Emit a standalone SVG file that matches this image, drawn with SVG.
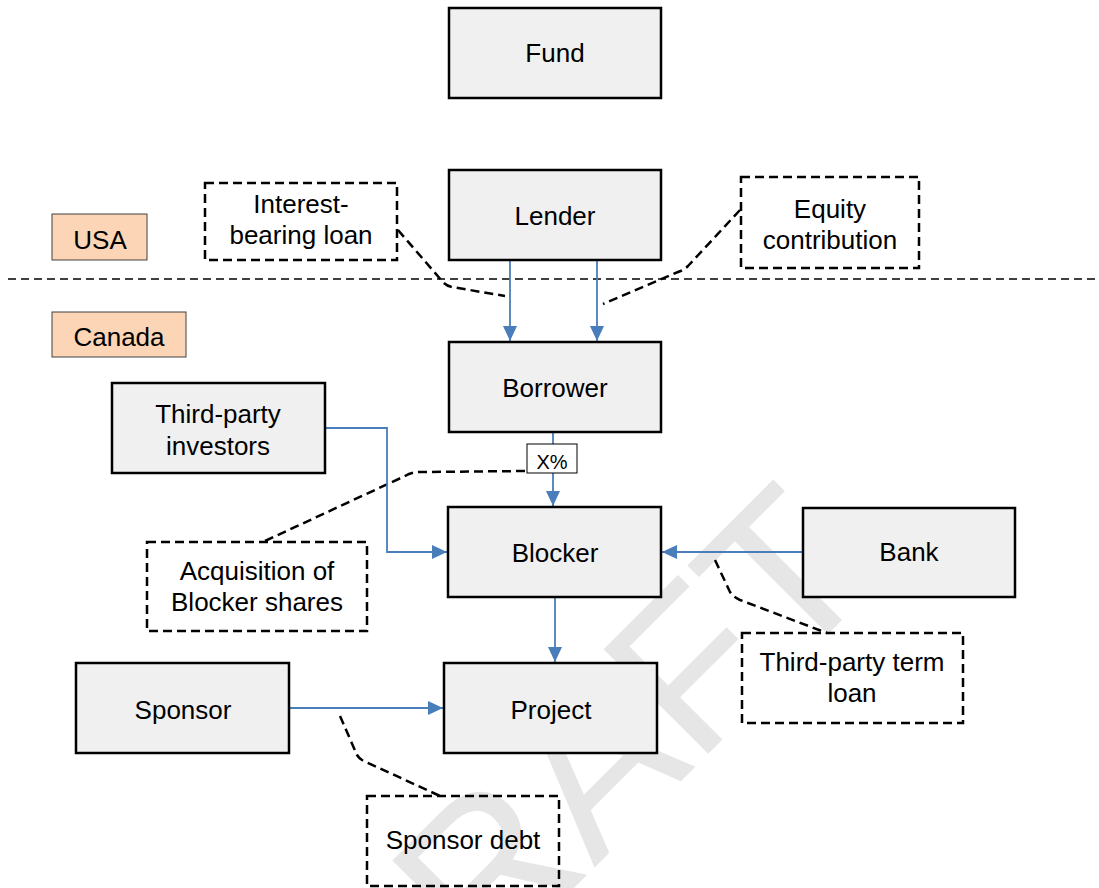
<svg xmlns="http://www.w3.org/2000/svg" width="1099" height="888" viewBox="0 0 1099 888">
  <style>
    .box { fill: #f0f0f0; stroke: #000; stroke-width: 2.5; }
    .note { fill: none; stroke: #000; stroke-width: 2.5; stroke-dasharray: 9 5; }
    .region { fill: #fbd5b5; stroke: #404040; stroke-width: 1; }
    .lbl { font-family: "Liberation Sans", Arial, sans-serif; font-size: 26px; fill: #000; text-anchor: middle; }
    .flow { fill: none; stroke: #4a7ebb; stroke-width: 1.8; }
    .lead { fill: none; stroke: #000; stroke-width: 2.5; stroke-dasharray: 9 5; }
    .wm { font-family: "Liberation Sans", Arial, sans-serif; font-size: 215px; fill: #e6e6e6; text-anchor: middle; }
  </style>
  <defs>
    <marker id="arr" viewBox="0 0 15 14" refX="15" refY="7" markerWidth="15" markerHeight="14" markerUnits="userSpaceOnUse" orient="auto">
      <path d="M0,0 L15,7 L0,14 z" fill="#4a7ebb"/>
    </marker>
  </defs>

  <rect width="1099" height="888" fill="#fff"/>

  <!-- watermark -->
  <text class="wm" transform="translate(628,834) rotate(-45)">DRAFT</text>

  <!-- jurisdiction divider -->
  <line x1="8" y1="279" x2="1099" y2="279" stroke="#000" stroke-width="1.5" stroke-dasharray="8 5"/>

  <g id="usa">
    <rect class="region" x="52" y="214" width="95" height="46"/>
    <text class="lbl" x="100" y="249">USA</text>
  </g>
  <g id="canada">
    <rect class="region" x="52" y="312" width="134" height="45"/>
    <text class="lbl" x="119" y="346">Canada</text>
  </g>

  <!-- callout leaders -->
  <g id="leaders">
    <path class="lead" d="M398,230 L442,281 Q446,286 452,287 L505,296"/>
    <path class="lead" d="M740,210 L688,266 Q684,270 678,272 L603,304"/>
    <path class="lead" d="M265,541 L405,476 Q412,472 420,472 L527,471"/>
    <path class="lead" d="M715,560 L730,592 Q733,597 740,600 L827,633"/>
    <path class="lead" d="M340,716 L357,755 Q360,760 366,762 L440,796"/>
  </g>

  <!-- flows -->
  <g id="connectors">
    <path class="flow" d="M510,260 V341" marker-end="url(#arr)"/>
    <path class="flow" d="M597,260 V341" marker-end="url(#arr)"/>
    <path class="flow" d="M553,432 V506" marker-end="url(#arr)"/>
    <path class="flow" d="M325,428 H387 V552 H447" marker-end="url(#arr)"/>
    <path class="flow" d="M803,552 H662" marker-end="url(#arr)"/>
    <path class="flow" d="M555,597 V662" marker-end="url(#arr)"/>
    <path class="flow" d="M289,708 H443" marker-end="url(#arr)"/>
  </g>

  <g id="pct">
    <rect x="527" y="444" width="50" height="29" fill="#fff" stroke="#000" stroke-width="1"/>
    <text class="lbl" x="552" y="469" style="font-size:20px">X%</text>
  </g>

  <g id="fund">
    <rect class="box" x="449" y="8" width="212" height="90"/>
    <text class="lbl" x="555" y="62">Fund</text>
  </g>
  <g id="lender">
    <rect class="box" x="449" y="170" width="212" height="90"/>
    <text class="lbl" x="555" y="225">Lender</text>
  </g>
  <g id="borrower">
    <rect class="box" x="449" y="342" width="212" height="90"/>
    <text class="lbl" x="555" y="397">Borrower</text>
  </g>
  <g id="blocker">
    <rect class="box" x="448" y="507" width="213" height="90"/>
    <text class="lbl" x="555" y="562">Blocker</text>
  </g>
  <g id="project">
    <rect class="box" x="444" y="663" width="213" height="90"/>
    <text class="lbl" x="551" y="719">Project</text>
  </g>
  <g id="investors">
    <rect class="box" x="112" y="383" width="213" height="90"/>
    <text class="lbl" x="218" y="423">Third-party</text>
    <text class="lbl" x="218" y="455">investors</text>
  </g>
  <g id="bank">
    <rect class="box" x="803" y="508" width="212" height="89"/>
    <text class="lbl" x="909" y="561">Bank</text>
  </g>
  <g id="sponsor">
    <rect class="box" x="76" y="663" width="213" height="90"/>
    <text class="lbl" x="183" y="719">Sponsor</text>
  </g>

  <g id="note-loan">
    <rect class="note" x="205" y="183" width="192" height="77"/>
    <text class="lbl" x="301" y="213">Interest-</text>
    <text class="lbl" x="301" y="244">bearing loan</text>
  </g>
  <g id="note-equity">
    <rect class="note" x="741" y="177" width="178" height="91"/>
    <text class="lbl" x="830" y="218">Equity</text>
    <text class="lbl" x="830" y="249">contribution</text>
  </g>
  <g id="note-acquisition">
    <rect class="note" x="147" y="542" width="220" height="89"/>
    <text class="lbl" x="257" y="580">Acquisition of</text>
    <text class="lbl" x="257" y="611">Blocker shares</text>
  </g>
  <g id="note-termloan">
    <rect class="note" x="742" y="633" width="221" height="90"/>
    <text class="lbl" x="852" y="671">Third-party term</text>
    <text class="lbl" x="852" y="702">loan</text>
  </g>
  <g id="note-sponsor">
    <rect class="note" x="367" y="796" width="192" height="90"/>
    <text class="lbl" x="463" y="849">Sponsor debt</text>
  </g>
</svg>
